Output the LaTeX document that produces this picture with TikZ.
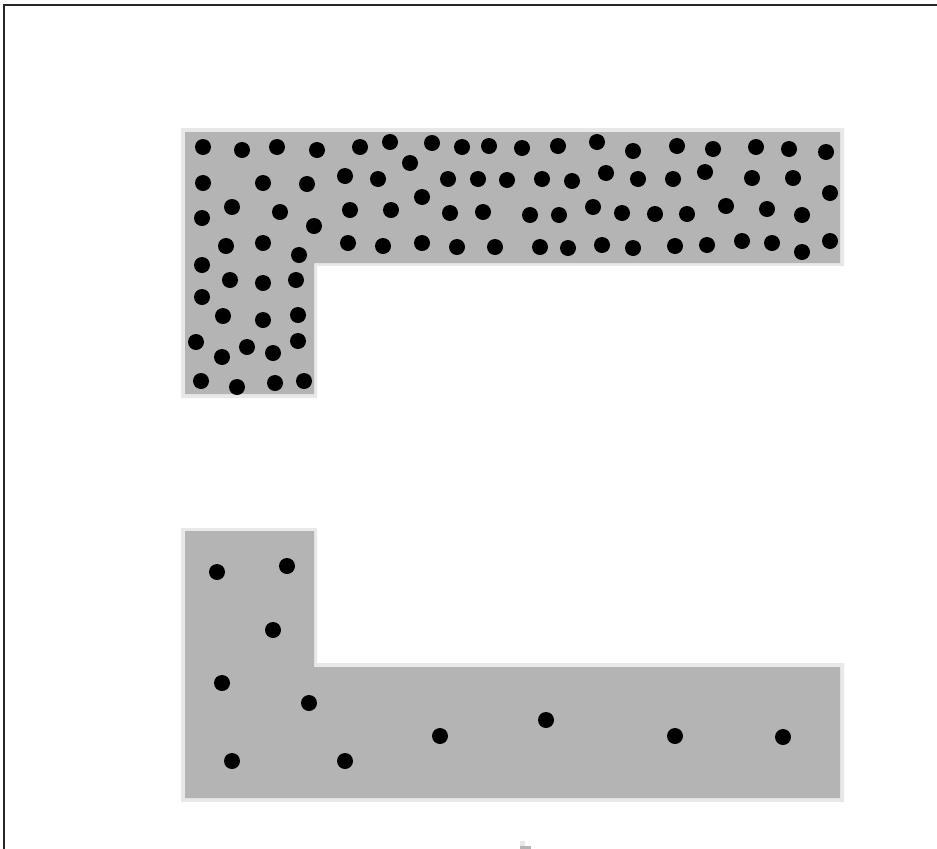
\documentclass[tikz,border=0pt]{standalone}
\usetikzlibrary{positioning}

\definecolor{fieldgray}{RGB}{180,180,180}
\definecolor{rimgray}{RGB}{232,232,232}

\begin{document}
\begin{tikzpicture}[
  x=0.02cm, y=-0.02cm,
  rim/.style={fill=rimgray},
  field/.style={fill=fieldgray},
  grain/.style={fill=black, draw=none},
  frame/.style={draw=black!85, line width=1.1pt}
]
\useasboundingbox (0,0) rectangle (937,849);

% outer frame, left and top only
\draw[frame] (4,849) -- (4,5) -- (937,5);

% upper L (dense)
\fill[rim] (181,128) -- (844,128) -- (844,266) -- (317,266) -- (317,398) -- (181,398) -- cycle;
\fill[field] (185,132) -- (840,132) -- (840,263) -- (314,263) -- (314,394) -- (185,394) -- cycle;

% lower L (sparse)
\fill[rim] (181,528) -- (317,528) -- (317,663) -- (844,663) -- (844,802) -- (181,802) -- cycle;
\fill[field] (185,531) -- (314,531) -- (314,667) -- (840,667) -- (840,798) -- (185,798) -- cycle;

% grains in the upper L
\foreach \gx/\gy in {203/147,242/150,277/147,317/150,360/147,390/142,432/143,462/147,489/146,
  522/148,558/146,597/142,633/151,677/146,713/149,756/147,789/149,826/152,
  410/163,203/183,263/183,307/184,345/176,378/179,448/179,478/179,507/180,
  542/179,572/181,606/173,638/179,673/179,705/172,752/178,793/178,830/193,
  202/218,232/207,280/212,314/226,350/210,391/210,422/197,450/213,483/212,
  530/215,559/215,593/207,622/213,655/214,687/214,726/206,767/209,802/215,
  226/246,263/243,299/255,348/243,383/246,422/243,457/247,495/247,540/247,
  568/248,602/245,633/248,675/246,707/245,742/241,772/243,802/252,830/241,
  202/265,230/280,263/283,296/280,202/297,223/316,263/320,298/315,
  196/342,222/357,247/347,273/353,298/341,201/381,237/387,275/383,304/381}
  \fill[grain] (\gx,\gy) circle[radius=8];

% grains in the lower L
\foreach \gx/\gy in {217/572,287/566,273/630,222/683,309/703,232/761,345/761,
  440/736,546/720,675/736,783/737}
  \fill[grain] (\gx,\gy) circle[radius=8];

% small mark at the bottom edge
\fill[rimgray] (520,841) rectangle (525,846);
\fill[fieldgray] (520,846) rectangle (531,849);
\end{tikzpicture}
\end{document}
